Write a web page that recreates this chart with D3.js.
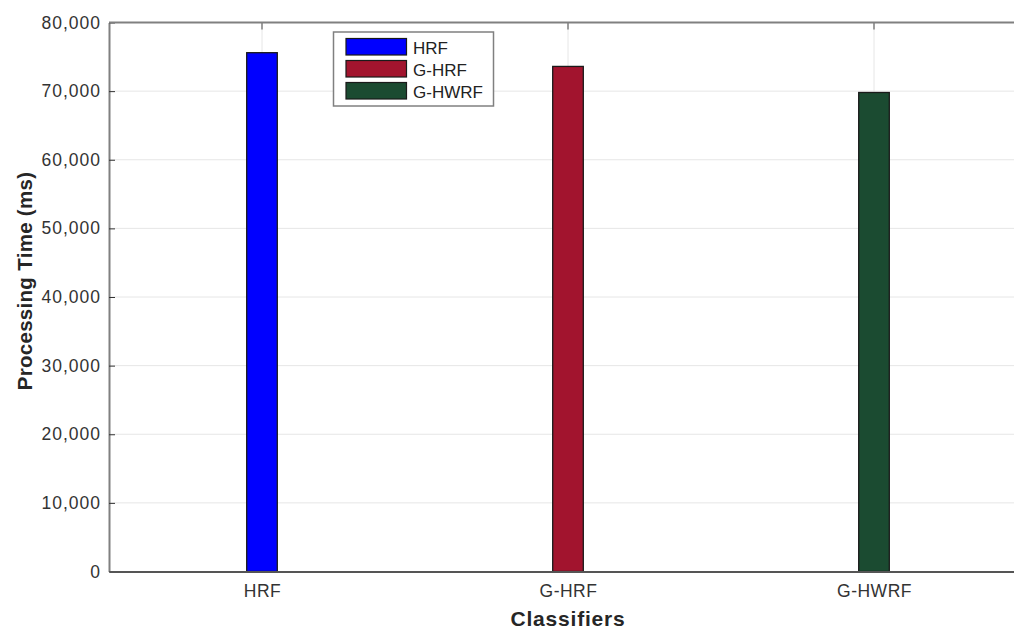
<!DOCTYPE html>
<html><head><meta charset="utf-8">
<script src="https://cdn.jsdelivr.net/npm/d3@7"></script>
<style>body{margin:0;background:#fff;}svg{display:block;font-family:"Liberation Sans",Arial,sans-serif;}</style>
</head><body><svg id="c" width="1014" height="631"></svg>
<script>
const categories = ["HRF", "G-HRF", "G-HWRF"];
const values = [75600, 73600, 69800];
const colors = ["#0000ff", "#a2142e", "#1b4b31"];
const yTicks = [0, 10000, 20000, 30000, 40000, 50000, 60000, 70000, 80000];
const xTitle = "Classifiers";
const yTitle = "Processing Time (ms)";

const svg = d3.select("#c");
const L = 109, T = 22.5, B = 571.5, R = 1027;
const x = d3.scaleLinear().domain([0.5, 3.5]).range([L, R]);
const y = d3.scaleLinear().domain([0, 80000]).range([B, T]);
const bw = (x(2) - x(1)) * 0.1;

// grid
svg.append("g").selectAll("line").data(yTicks).join("line")
  .attr("x1", L).attr("x2", R).attr("y1", d => y(d)).attr("y2", d => y(d))
  .attr("stroke", "#e6e6e6").attr("stroke-width", 1);
svg.append("g").selectAll("line").data(categories).join("line")
  .attr("x1", (d,i) => x(i+1)).attr("x2", (d,i) => x(i+1)).attr("y1", T).attr("y2", B)
  .attr("stroke", "#e6e6e6").attr("stroke-width", 1);

// bars
svg.append("g").selectAll("rect").data(values).join("rect")
  .attr("x", (d,i) => x(i+1) - bw/2).attr("width", bw)
  .attr("y", d => y(d)).attr("height", d => y(0) - y(d))
  .attr("fill", (d,i) => colors[i]).attr("stroke", "#1a1a1a").attr("stroke-width", 1.3);

// axes
const yAxis = d3.axisLeft(y).tickValues(yTicks).tickSizeInner(-6).tickSizeOuter(0).tickPadding(8)
  .tickFormat(d3.format(","));
const gy = svg.append("g").attr("transform", `translate(${L},0)`).call(yAxis);
gy.select(".domain").attr("stroke", "#808080").attr("stroke-width", 2);
gy.selectAll(".tick line").attr("stroke", "#333");
gy.selectAll("text").attr("font-size", 17.5).attr("letter-spacing", 1).attr("fill", "#333");

const xAxis = d3.axisBottom(x).tickValues([1,2,3]).tickSizeInner(0).tickSizeOuter(0).tickPadding(13)
  .tickFormat(d => categories[d-1]);
const gx = svg.append("g").attr("transform", `translate(0,${B})`).call(xAxis);
gx.select(".domain").attr("stroke", "#555").attr("stroke-width", 2);
gx.selectAll("text").attr("font-size", 17.5).attr("letter-spacing", 0.5).attr("fill", "#333");

// top frame + ticks
svg.append("line").attr("x1", L).attr("x2", R).attr("y1", T).attr("y2", T)
  .attr("stroke", "#808080").attr("stroke-width", 2);
svg.append("g").selectAll("line").data(categories).join("line")
  .attr("x1", (d,i) => x(i+1)).attr("x2", (d,i) => x(i+1)).attr("y1", T).attr("y2", T + 7)
  .attr("stroke", "#808080").attr("stroke-width", 1.5);

// titles
svg.append("text").attr("x", x(2)).attr("y", 626).attr("text-anchor", "middle")
  .attr("font-size", 21).attr("letter-spacing", 0.8).attr("font-weight", "bold").attr("fill", "#262626").text(xTitle);
svg.append("text").attr("transform", `translate(32,281) rotate(-90)`).attr("text-anchor", "middle")
  .attr("font-size", 20.5).attr("letter-spacing", 0.3).attr("font-weight", "bold").attr("fill", "#262626").text(yTitle);

// legend
const lg = svg.append("g");
lg.append("rect").attr("x", 333.5).attr("y", 32).attr("width", 160).attr("height", 74)
  .attr("fill", "#fff").attr("stroke", "#808080").attr("stroke-width", 1.5);
const items = lg.selectAll("g.it").data(categories).join("g").attr("class", "it")
  .attr("transform", (d,i) => `translate(346,${38.5 + i*22})`);
items.append("rect").attr("width", 60.5).attr("height", 16.5).attr("fill", (d,i) => colors[i])
  .attr("stroke", "#1a1a1a").attr("stroke-width", 1.2);
items.append("text").attr("x", 67).attr("y", 15).attr("font-size", 17).attr("fill", "#222").text(d => d);
</script></body></html>
